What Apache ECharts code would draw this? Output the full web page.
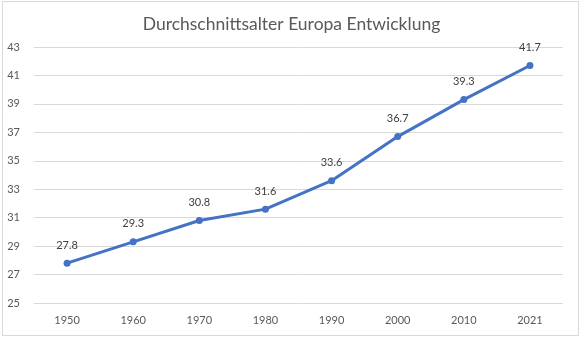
<!DOCTYPE html>
<html>
<head>
<meta charset="utf-8">
<script src="https://cdn.jsdelivr.net/npm/echarts@6/dist/echarts.min.js"></script>
<style>
  html, body { margin: 0; padding: 0; background: #fff; }
  #frame { position: absolute; left: 2px; top: 1px; width: 575px; height: 333px; border: 1px solid #d9d9d9; }
  #chart { position: absolute; left: 0; top: 0; width: 583px; height: 338px; }
</style>
</head>
<body>
<div id="frame"></div>
<div id="chart"></div>
<script>
// Median age in Europe by year
const years = ['1950', '1960', '1970', '1980', '1990', '2000', '2010', '2021'];
const medianAge = [27.8, 29.3, 30.8, 31.6, 33.6, 36.7, 39.3, 41.7];
const yMin = 25, yMax = 43, yStep = 2;

const font = 'Lato, "Open Sans", sans-serif';
const chart = echarts.init(document.getElementById('chart'), null, { renderer: 'canvas' });
chart.setOption({
  animation: false,
  title: {
    text: 'Durchschnittsalter Europa Entwicklung',
    left: 'center',
    top: 10,
    textStyle: { fontFamily: font, fontSize: 17.5, fontWeight: 'normal', color: '#595959' }
  },
  grid: { left: 34, right: 20, top: 47, bottom: 35, containLabel: false },
  xAxis: {
    type: 'category',
    data: years,
    boundaryGap: true,
    axisLine: { show: false },
    axisTick: { show: false },
    axisLabel: { fontFamily: font, fontSize: 11, color: '#595959', margin: 12 }
  },
  yAxis: {
    type: 'value',
    min: yMin, max: yMax, interval: yStep,
    axisLine: { show: false },
    axisTick: { show: false },
    axisLabel: { fontFamily: font, fontSize: 11, color: '#595959', margin: 14 },
    splitLine: { lineStyle: { color: '#d9d9d9', width: 1 } }
  },
  series: [{
    type: 'line',
    data: medianAge,
    symbol: 'circle',
    symbolSize: 7,
    lineStyle: { color: '#4472c4', width: 3 },
    itemStyle: { color: '#4472c4' },
    label: {
      show: true, position: 'top', distance: 9,
      fontFamily: font, fontSize: 11, color: '#404040',
      formatter: p => p.value.toFixed(1)
    }
  }]
});
</script>
</body>
</html>
